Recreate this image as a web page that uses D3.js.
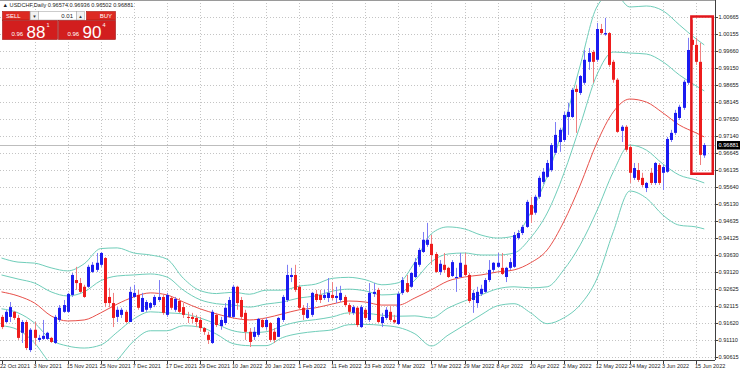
<!DOCTYPE html>
<html>
<head>
<meta charset="utf-8">
<script src="https://d3js.org/d3.v7.min.js"></script>
<style>
  body { margin: 0; background: #fff; }
  svg { display: block; font-family: "Liberation Sans", "DejaVu Sans", sans-serif; }
</style>
</head>
<body>
<script>
// USDCHF daily, 22 Oct 2021 .. 17 Jun 2022 (bar index 0..170)
const opens = [
  .9180,.9165,.9180,.9195,.9177,.9133,.9165,.9082,.9142,.9112,.9115,.9115,.9118,.9103,.9171,.9195,.9195,.9245,.9289,.9280,
  .9269,.9269,.9313,.9319,.9334,.9354,.9239,.9221,.9180,.9186,.9195,.9165,.9239,.9245,.9195,.9201,.9207,.9215,.9230,.9239,
  .9186,.9236,.9201,.9227,.9209,.9180,.9180,.9177,.9171,.9147,.9127,.9103,.9186,.9153,.9162,.9180,.9180,.9269,.9230,.9192,
  .9136,.9121,.9127,.9171,.9150,.9162,.9136,.9121,.9171,.9230,.9298,.9304,.9269,.9207,.9177,.9186,.9248,.9245,.9236,.9236,
  .9245,.9236,.9230,.9239,.9215,.9192,.9207,.9150,.9201,.9171,.9248,.9260,.9162,.9177,.9195,.9171,.9159,.9251,.9280,.9269,
  .9298,.9334,.9372,.9393,.9396,.9366,.9313,.9334,.9325,.9301,.9295,.9298,.9334,.9304,.9230,.9221,.9248,.9254,.9289,.9319,
  .9328,.9325,.9298,.9325,.9328,.9413,.9428,.9446,.9511,.9488,.9535,.9579,.9594,.9614,.9665,.9697,.9703,.9771,.9771,.9854,
  .9842,.9872,.9934,.9963,.9940,1.0031,1.0015,1.0019,.9934,.9881,.9730,.9742,.9682,.9591,.9614,.9591,.9561,.9606,.9576,.9629,
  .9606,.9609,.9703,.9724,.9768,.9798,.9872,.9999,.9984,.9934,.96574
];
const highs = [
  .9186,.9201,.9224,.9198,.9186,.9171,.9171,.9147,.9165,.9127,.9171,.9136,.9121,.9186,.9215,.9230,.9251,.9310,.9328,.9295,
  .9275,.9334,.9342,.9369,.9372,.9357,.9266,.9251,.9209,.9207,.9201,.9269,.9275,.9260,.9251,.9230,.9224,.9245,.9289,.9245,
  .9251,.9239,.9239,.9236,.9221,.9195,.9192,.9186,.9180,.9150,.9136,.9201,.9192,.9180,.9221,.9239,.9275,.9272,.9239,.9201,
  .9147,.9150,.9177,.9177,.9177,.9165,.9147,.9180,.9245,.9334,.9325,.9334,.9275,.9215,.9221,.9254,.9260,.9260,.9260,.9295,
  .9283,.9269,.9272,.9245,.9221,.9215,.9212,.9215,.9207,.9280,.9280,.9266,.9192,.9209,.9212,.9186,.9254,.9298,.9304,.9313,
  .9354,.9384,.9431,.9458,.9422,.9372,.9348,.9369,.9328,.9348,.9325,.9369,.9369,.9310,.9260,.9269,.9275,.9295,.9348,.9342,
  .9369,.9369,.9328,.9354,.9431,.9437,.9452,.9526,.9535,.9541,.9597,.9620,.9644,.9694,.9756,.9739,.9786,.9813,.9857,.9866,
  .9895,.9969,.9975,.9969,1.0049,1.0046,1.0064,1.0022,.9940,.9886,.9747,.9747,.9688,.9635,.9635,.9606,.9579,.9620,.9638,.9635,
  .9629,.9712,.9733,.9792,.9807,.9881,1.0005,1.0058,1.0005,.9990,.96936
];
const lows = [
  .9144,.9162,.9165,.9171,.9112,.9103,.9082,.9076,.9097,.9106,.9112,.9112,.9103,.9100,.9165,.9192,.9192,.9239,.9260,.9251,
  .9236,.9266,.9310,.9313,.9328,.9209,.9209,.9150,.9165,.9177,.9162,.9165,.9236,.9201,.9195,.9195,.9201,.9209,.9224,.9186,
  .9180,.9201,.9195,.9192,.9177,.9162,.9162,.9150,.9136,.9127,.9100,.9100,.9150,.9142,.9156,.9177,.9177,.9201,.9171,.9112,
  .9091,.9112,.9121,.9147,.9142,.9106,.9103,.9121,.9165,.9224,.9283,.9254,.9201,.9171,.9174,.9180,.9224,.9221,.9230,.9224,
  .9230,.9221,.9224,.9209,.9186,.9186,.9150,.9147,.9171,.9165,.9239,.9162,.9150,.9171,.9165,.9160,.9156,.9245,.9251,.9266,
  .9295,.9328,.9369,.9387,.9334,.9310,.9304,.9310,.9295,.9298,.9254,.9295,.9298,.9221,.9192,.9207,.9242,.9251,.9283,.9313,
  .9325,.9304,.9283,.9319,.9325,.9408,.9422,.9443,.9458,.9482,.9529,.9573,.9591,.9609,.9659,.9668,.9697,.9718,.9768,.9724,
  .9836,.9866,.9910,.9872,.9934,1.0014,1.0011,.9919,.9872,.9724,.9697,.9668,.9576,.9585,.9579,.9564,.9549,.9570,.9570,.9570,
  .9555,.9606,.9697,.9718,.9762,.9792,.9866,.9969,.9925,.9629,.96502
];
const closes = [
  .9150,.9195,.9209,.9177,.9118,.9165,.9088,.9142,.9118,.9118,.9124,.9133,.9106,.9180,.9207,.9215,.9248,.9304,.9280,.9254,
  .9239,.9328,.9334,.9340,.9369,.9221,.9221,.9177,.9201,.9201,.9165,.9254,.9251,.9207,.9236,.9224,.9221,.9239,.9239,.9192,
  .9245,.9207,.9233,.9195,.9186,.9177,.9174,.9165,.9147,.9136,.9112,.9195,.9156,.9171,.9207,.9230,.9269,.9221,.9180,.9136,
  .9106,.9136,.9174,.9150,.9171,.9112,.9112,.9177,.9239,.9304,.9304,.9260,.9207,.9186,.9201,.9251,.9230,.9230,.9245,.9251,
  .9236,.9242,.9251,.9215,.9195,.9209,.9156,.9209,.9177,.9251,.9254,.9165,.9180,.9201,.9171,.9164,.9248,.9289,.9254,.9310,
  .9342,.9378,.9408,.9408,.9363,.9313,.9337,.9319,.9298,.9342,.9298,.9340,.9304,.9227,.9251,.9254,.9263,.9289,.9319,.9340,
  .9340,.9307,.9325,.9342,.9422,.9428,.9446,.9520,.9482,.9535,.9591,.9609,.9635,.9688,.9718,.9733,.9777,.9786,.9851,.9845,
  .9892,.9940,.9960,.9934,1.0031,1.0019,1.0019,.9925,.9881,.9727,.9742,.9674,.9606,.9620,.9585,.9570,.9576,.9576,.9635,.9576,
  .9623,.9706,.9724,.9783,.9801,.9875,.9969,.9984,.9934,.9659,.96881
];

// Bollinger (20) middle line and one standard deviation, read every 4 bars
const bbBars = [0,4,8,12,16,20,24,28,32,36,40,44,48,52,56,60,64,68,72,76,80,84,88,92,96,100,104,108,112,116,120,124,128,132,136,140,144,148,152,156,160,164,168,170];
const bbMid = [.9254,.9242,.9221,.9183,.9168,.9171,.9192,.9218,.9239,.9251,.9245,.9224,.9204,.9189,.9177,.9171,.9177,.9189,.9201,.9207,
  .9218,.9227,.9224,.9215,.9215,.9236,.9260,.9286,.9298,.9304,.9313,.9319,.9340,.9378,.9461,.9570,.9694,.9786,.9824,.9815,.9783,.9747,.9724,.9712];
const bbDev = [.0050,.0050,.0059,.0071,.0074,.0083,.0095,.0083,.0065,.0056,.0053,.0035,.0027,.0030,.0038,.0038,.0041,.0035,.0035,.0035,
  .0038,.0035,.0033,.0030,.0033,.0053,.0083,.0080,.0071,.0059,.0050,.0050,.0074,.0109,.0142,.0177,.0201,.0177,.0136,.0142,.0151,.0148,.0139,.0136];

const priceTicks = [1.00665,1.00155,0.99660,0.99150,0.98655,0.98145,0.97650,0.97140,0.96645,0.96135,0.95640,
  0.95130,0.94635,0.94125,0.93630,0.93120,0.92625,0.92115,0.91620,0.91110,0.90615];
const dateTickBars = [0,8,16,24,32,40,48,56,64,72,80,88,96,104,112,120,128,136,144,152,160,168];
const dateTickLabels = ["22 Oct 2021","3 Nov 2021","15 Nov 2021","25 Nov 2021","7 Dec 2021","17 Dec 2021","29 Dec 2021",
  "10 Jan 2022","20 Jan 2022","1 Feb 2022","11 Feb 2022","23 Feb 2022","7 Mar 2022","17 Mar 2022","29 Mar 2022",
  "8 Apr 2022","20 Apr 2022","2 May 2022","12 May 2022","24 May 2022","3 Jun 2022","15 Jun 2022"];
const symbol = "USDCHF,Daily";
const bidPrice = 0.96881;
const askPrice = 0.96904;
const lotSize = "0.01";
const highlightBars = [167, 170];
const highlightRange = [0.96135, 1.00665];

const W = 740, H = 373;
const plotR = 715, plotB = 360;
const blue = "#1b1bf0", red = "#ee1c1c";

const svg = d3.select("body").append("svg").attr("width", W).attr("height", H);
svg.append("rect").attr("width", W).attr("height", H).attr("fill", "#fff");

const x = d3.scaleLinear().domain([0, 168]).range([1.5, 696]);
const y = d3.scaleLinear().domain([0.90615, 1.00665]).range([357, 17]);

svg.append("clipPath").attr("id", "plot").append("rect").attr("x", 0).attr("y", 0).attr("width", plotR).attr("height", plotB);

// grid
const grid = svg.append("g").attr("stroke", "#c4c4c4").attr("stroke-dasharray", "1,2").attr("stroke-width", 1);
grid.selectAll("line.h").data(priceTicks).join("line")
  .attr("x1", 0).attr("x2", plotR).attr("y1", d => Math.round(y(d)) + 0.5).attr("y2", d => Math.round(y(d)) + 0.5);
grid.selectAll("line.v").data(dateTickBars.slice(1)).join("line")
  .attr("y1", 0).attr("y2", plotB).attr("x1", d => Math.round(x(d)) + 0.5).attr("x2", d => Math.round(x(d)) + 0.5);

const plot = svg.append("g").attr("clip-path", "url(#plot)");

// bid line
plot.append("line").attr("x1", 0).attr("x2", plotR)
  .attr("y1", Math.round(y(bidPrice)) + 0.5).attr("y2", Math.round(y(bidPrice)) + 0.5)
  .attr("stroke", "#bdbdbd").attr("stroke-width", 1);

// bollinger lines
const bands = [
  { k: 2, color: "#6fcdb9" }, { k: 1, color: "#6fcdb9" }, { k: 0, color: "#e8504a" },
  { k: -1, color: "#6fcdb9" }, { k: -2, color: "#6fcdb9" }
];
bands.forEach(b => {
  const line = d3.line()
    .x((d, i) => x(bbBars[i]))
    .y((d, i) => y(bbMid[i] + b.k * bbDev[i]))
    .curve(d3.curveMonotoneX);
  plot.append("path").datum(bbMid).attr("d", line)
    .attr("fill", "none").attr("stroke", b.color).attr("stroke-width", 1);
});

// candles
const bars = d3.range(closes.length).map(i => ({ i, o: opens[i], h: highs[i], l: lows[i], c: closes[i] }));
const cg = plot.selectAll("g.candle").data(bars).join("g").attr("class", "candle");
cg.append("line")
  .attr("x1", d => Math.round(x(d.i)) + 0.5).attr("x2", d => Math.round(x(d.i)) + 0.5)
  .attr("y1", d => y(d.h)).attr("y2", d => y(d.l))
  .attr("stroke", d => d.c >= d.o ? "#7d7df5" : "#f08080").attr("stroke-width", 1);
cg.append("rect")
  .attr("x", d => Math.round(x(d.i)) - 1)
  .attr("width", 3)
  .attr("y", d => y(Math.max(d.o, d.c)))
  .attr("height", d => Math.max(1, Math.abs(y(d.o) - y(d.c))))
  .attr("fill", d => d.c >= d.o ? blue : red);

// highlight box
svg.append("rect")
  .attr("x", x(highlightBars[0]) - 0.5)
  .attr("y", y(highlightRange[1]) - 0.5)
  .attr("width", x(highlightBars[1]) - x(highlightBars[0]) + 9)
  .attr("height", y(highlightRange[0]) - y(highlightRange[1]) + 4)
  .attr("fill", "none").attr("stroke", "#e3161b").attr("stroke-width", 2.5);

// frame
svg.append("line").attr("x1", 0).attr("x2", plotR).attr("y1", 0.5).attr("y2", 0.5).attr("stroke", "#9a9a9a");
svg.append("line").attr("x1", plotR + 0.5).attr("x2", plotR + 0.5).attr("y1", 0).attr("y2", plotB).attr("stroke", "#404040");
svg.append("line").attr("x1", 0).attr("x2", plotR).attr("y1", plotB + 0.5).attr("y2", plotB + 0.5).attr("stroke", "#404040");

// right price axis
const ra = svg.append("g");
ra.selectAll("line").data(priceTicks).join("line")
  .attr("x1", plotR).attr("x2", plotR + 3)
  .attr("y1", d => Math.round(y(d)) + 0.5).attr("y2", d => Math.round(y(d)) + 0.5)
  .attr("stroke", "#404040");
ra.selectAll("text").data(priceTicks).join("text")
  .attr("x", plotR + 3.5).attr("y", d => y(d) + 2)
  .attr("font-size", "5.6px").attr("fill", "#222")
  .text(d => d.toFixed(5));

// current price label
svg.append("rect").attr("x", plotR + 2).attr("y", y(bidPrice) - 4).attr("width", W - plotR - 2).attr("height", 8.5).attr("fill", "#000");
svg.append("text").attr("x", plotR + 3.5).attr("y", y(bidPrice) + 2)
  .attr("font-size", "5.6px").attr("fill", "#fff").text(bidPrice.toFixed(5));

// date axis
const da = svg.append("g");
da.selectAll("line").data(dateTickBars).join("line")
  .attr("x1", d => Math.round(x(d)) + 0.5).attr("x2", d => Math.round(x(d)) + 0.5)
  .attr("y1", plotB).attr("y2", plotB + 4).attr("stroke", "#404040");
da.selectAll("text").data(dateTickBars).join("text")
  .attr("x", (d, i) => i === 0 ? 0 : x(d) - 1).attr("y", 367.5)
  .attr("font-size", "5.5px").attr("fill", "#222")
  .text((d, i) => dateTickLabels[i]);

// header + one-click trading panel
svg.append("text").attr("x", 2.5).attr("y", 6.5).attr("font-size", "5.6px").attr("fill", "#222")
  .text("\u25B2 " + symbol + "  0.96574 0.96936 0.96502 0.96881");

const panel = svg.append("g");
const btnRed = "#dd2a22", boxRed = "#d21e1e";
panel.append("rect").attr("x", 2).attr("y", 11).attr("width", 114).attr("height", 29).attr("fill", "#fff");
panel.append("rect").attr("x", 2.5).attr("y", 11.5).attr("width", 27).attr("height", 8.5).attr("fill", btnRed).attr("stroke", "#a81510").attr("stroke-width", 0.6);
panel.append("text").attr("x", 6).attr("y", 18).attr("font-size", "6px").attr("fill", "#fff").text("SELL");
panel.append("rect").attr("x", 30.5).attr("y", 11.5).attr("width", 8).attr("height", 8.5).attr("fill", "#f2f2f2").attr("stroke", "#aaa").attr("stroke-width", 0.6);
panel.append("text").attr("x", 32.3).attr("y", 17.6).attr("font-size", "4.5px").attr("fill", "#333").text("\u25BC");
panel.append("rect").attr("x", 38.5).attr("y", 11.5).attr("width", 38).attr("height", 8.5).attr("fill", "#fff").attr("stroke", "#aaa").attr("stroke-width", 0.6);
panel.append("text").attr("x", 73).attr("y", 18).attr("font-size", "6px").attr("fill", "#222").attr("text-anchor", "end").text(lotSize);
panel.append("rect").attr("x", 76.5).attr("y", 11.5).attr("width", 8).attr("height", 8.5).attr("fill", "#f2f2f2").attr("stroke", "#aaa").attr("stroke-width", 0.6);
panel.append("text").attr("x", 78.3).attr("y", 17.6).attr("font-size", "4.5px").attr("fill", "#333").text("\u25B2");
panel.append("rect").attr("x", 86.5).attr("y", 11.5).attr("width", 29).attr("height", 8.5).attr("fill", btnRed).attr("stroke", "#a81510").attr("stroke-width", 0.6);
panel.append("text").attr("x", 112).attr("y", 18).attr("font-size", "6px").attr("fill", "#fff").attr("text-anchor", "end").text("BUY");

function quote(x0, w, price) {
  const s = price.toFixed(5);
  panel.append("rect").attr("x", x0).attr("y", 20.5).attr("width", w).attr("height", 19).attr("fill", boxRed).attr("stroke", "#9e1212").attr("stroke-width", 0.6);
  panel.append("text").attr("x", x0 + 9).attr("y", 36).attr("font-size", "6px").attr("fill", "#fff").text(s.slice(0, 4));
  panel.append("text").attr("x", x0 + 24).attr("y", 37.5).attr("font-size", "17px").attr("fill", "#fff").text(s.slice(4, 6));
  panel.append("text").attr("x", x0 + 44).attr("y", 27).attr("font-size", "5.5px").attr("fill", "#fff").text(s.slice(6));
}
quote(2.5, 55, bidPrice);
quote(58.5, 57, askPrice);
</script>
</body>
</html>
